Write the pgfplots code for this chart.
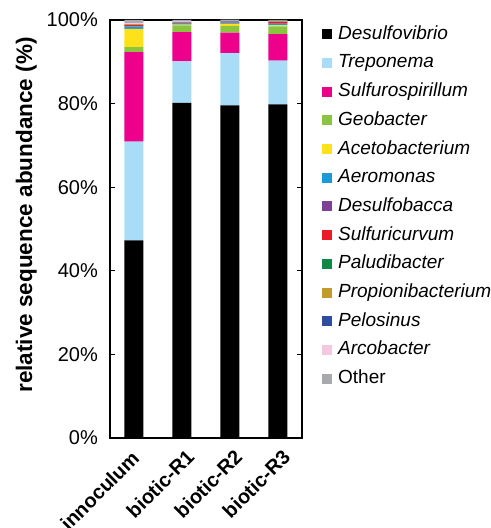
\documentclass[border=0pt]{standalone}
\usepackage{pgfplots}
\pgfplotsset{compat=1.18}
\usepackage{fontspec}
\setmainfont{Liberation Sans}
\newcommand\fs{\fontsize{19bp}{22bp}\selectfont}
\newcommand\ft{\fontsize{20bp}{24bp}\selectfont}
\newcommand\fl{\fontsize{22.5bp}{26bp}\selectfont}
\definecolor{cDes}{HTML}{000000}
\definecolor{cTre}{HTML}{A9DDF7}
\definecolor{cSul}{HTML}{EC008C}
\definecolor{cGeo}{HTML}{8BC53F}
\definecolor{cAce}{HTML}{FFE11A}
\definecolor{cAer}{HTML}{1B9AD6}
\definecolor{cDsb}{HTML}{7F3F98}
\definecolor{cSfc}{HTML}{ED1C24}
\definecolor{cPal}{HTML}{0A8A45}
\definecolor{cPro}{HTML}{C49A2C}
\definecolor{cPel}{HTML}{2E4DA0}
\definecolor{cArc}{HTML}{F4C9DF}
\definecolor{cOth}{HTML}{A7A9AC}
\begin{document}
\begin{tikzpicture}
\useasboundingbox (-110bp,-90bp) rectangle (381bp,438bp);
\begin{axis}[
  at={(0,0)}, anchor=south west,
  scale only axis, width=192bp, height=418bp,
  ybar stacked, bar width=19bp,
  xmin=-0.5, xmax=3.5, ymin=0, ymax=100,
  xtick={0,1,2,3},
  xticklabels={\raisebox{4bp}{innoculum}\hspace*{6bp},biotic-R1,biotic-R2,biotic-R3},
  xticklabel style={rotate=45, anchor=north east, font=\ft\bfseries, inner sep=1bp, xshift=-4bp, yshift=-8bp, text height=15bp, text depth=4bp},
  x tick style={draw=none},
  ytick={0,20,40,60,80,100},
  yticklabels={0\%,20\%,40\%,60\%,80\%,100\%},
  yticklabel style={font=\ft, inner sep=0pt, xshift=-12bp},
  tick align=inside, major tick length=5bp,
  y tick style={line width=1.2bp, black},
  axis line style={line width=1.2bp},
  ylabel={relative sequence abundance (\%)},
  ylabel style={font=\fl\bfseries, at={(rel axis cs:0,0.5)}, anchor=south, yshift=73bp, xshift=14bp, inner sep=0pt},
  legend image code/.code={\path[#1,draw=none] (0bp,-5bp) rectangle (10bp,5bp);},
  legend style={draw=none, fill=none, at={(rel axis cs:1.104,0.988)}, anchor=north west,
    font=\fs, inner sep=0pt, row sep=10.7bp,
    nodes={inner sep=0pt, text height=14bp, text depth=4bp}},
  legend cell align=left,
  /tikz/every odd column/.append style={column sep=6bp},
]
\addplot[fill=cDes, draw=none] coordinates {(0,47.3) (1,80.2) (2,79.6) (3,79.8)};
\addplot[fill=cTre, draw=none] coordinates {(0,23.6) (1,9.9) (2,12.5) (3,10.5)};
\addplot[fill=cSul, draw=none] coordinates {(0,21.4) (1,7.0) (2,4.9) (3,6.3)};
\addplot[fill=cGeo, draw=none] coordinates {(0,1.2) (1,1.6) (2,1.6) (3,1.9)};
\addplot[fill=cAce, draw=none] coordinates {(0,4.4) (1,0.2) (2,0.4) (3,0.2)};
\addplot[fill=cAer, draw=none] coordinates {(0,0.5) (1,0.2) (2,0.2) (3,0.3)};
\addplot[fill=cDsb, draw=none] coordinates {(0,0.1) (1,0.1) (2,0.1) (3,0.2)};
\addplot[fill=cSfc, draw=none] coordinates {(0,0.3) (1,0.1) (2,0.1) (3,0.3)};
\addplot[fill=cPal, draw=none] coordinates {(0,0.05) (1,0.05) (2,0.05) (3,0.05)};
\addplot[fill=cPro, draw=none] coordinates {(0,0.1) (1,0.1) (2,0.1) (3,0.1)};
\addplot[fill=cPel, draw=none] coordinates {(0,0.05) (1,0.1) (2,0.1) (3,0.1)};
\addplot[fill=cArc, draw=none] coordinates {(0,0.3) (1,0.1) (2,0.1) (3,0.1)};
\addplot[fill=cOth, draw=none] coordinates {(0,0.7) (1,0.35) (2,0.35) (3,0.15)};
\legend{\textit{Desulfovibrio},\textit{Treponema},\textit{Sulfurospirillum},\textit{Geobacter},\textit{Acetobacterium},\textit{Aeromonas},\textit{Desulfobacca},\textit{Sulfuricurvum},\textit{Paludibacter},\textit{Propionibacterium},\textit{Pelosinus},\textit{Arcobacter},Other}
\end{axis}
\end{tikzpicture}
\end{document}
